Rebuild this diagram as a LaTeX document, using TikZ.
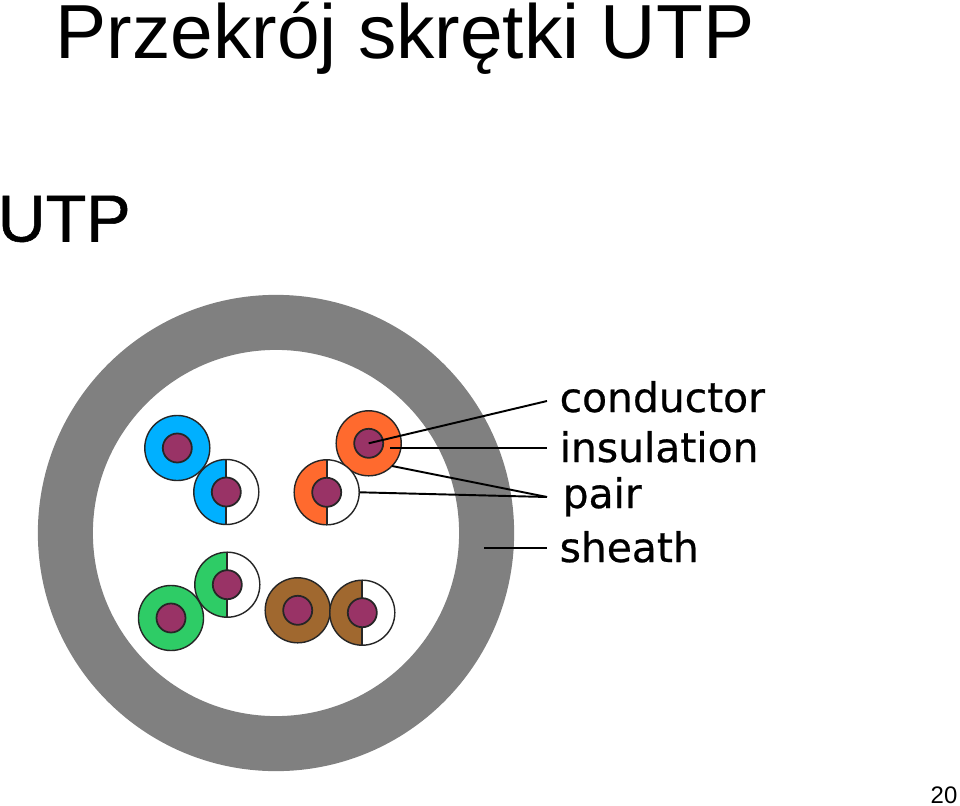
\documentclass[tikz,border=0pt]{standalone}
\usepackage{fontspec}
\setmainfont{Liberation Sans}
\newfontfamily\labelfont[FakeBold=0.6]{DejaVu Sans}
\newfontfamily\utpfont[FakeBold=0.8]{Liberation Sans}
\usepackage{xcolor}
\definecolor{sheathgray}{HTML}{808080}
\definecolor{corepurple}{HTML}{993366}
\definecolor{wireblue}{HTML}{00B0FF}
\definecolor{wireorange}{HTML}{FF6A2E}
\definecolor{wiregreen}{HTML}{2ECC66}
\definecolor{wirebrown}{HTML}{A0682F}
\tikzset{
    sheath/.style={circle, draw=sheathgray, line width=0.55cm, fill=white, inner sep=0pt, minimum size=4.21cm},
    solidwire/.style={circle, draw=black!85, line width=0.4pt, fill=#1, inner sep=0pt, minimum size=0.65cm},
    halfwire/.style={circle, draw=black!85, line width=0.4pt, fill=white, inner sep=0pt, minimum size=0.65cm,
        path picture={
            \fill[#1] (path picture bounding box.south west) rectangle (path picture bounding box.north);
            \draw[black!85, line width=0.5pt] (path picture bounding box.south) -- (path picture bounding box.north);
        }},
    core/.style={circle, draw=black!85, line width=0.5pt, fill=corepurple, inner sep=0pt, minimum size=0.29cm},
    wirelabel/.style={font=\labelfont\fontsize{11.6}{13}\selectfont, anchor=base west, inner sep=0pt},
    leader/.style={black, line width=0.55pt},
}
\begin{document}
\begin{tikzpicture}[x=0.01cm,y=-0.01cm]
    \useasboundingbox (0,0) rectangle (960,806);

    \node[anchor=base west, inner sep=0pt, font=\fontsize{21.8}{24}\selectfont] (title) at (55,58) {Przekrój skrętki UTP};
    \node[anchor=base west, inner sep=0pt, font=\utpfont\fontsize{18.9}{22}\selectfont] (utp) at (-3,241.5) {UTP};
    \node[anchor=base east, inner sep=0pt, font=\fontsize{6.8}{8}\selectfont] (page) at (958,803) {20};

    \node[sheath] (ring) at (276,533) {};

    % blue pair
    \node[solidwire=wireblue] (bluesolid) at (177.3,448) {};
    \node[core] at (bluesolid) {};
    \node[halfwire=wireblue] (bluehalf) at (226.3,492) {};
    \node[core] at (bluehalf) {};

    % orange pair
    \node[solidwire=wireorange] (orangesolid) at (368.7,443.3) {};
    \node[core] (orangecore) at (orangesolid) {};
    \node[halfwire=wireorange] (orangehalf) at (326.7,492.3) {};
    \node[core] at (orangehalf) {};

    % green pair
    \node[halfwire=wiregreen] (greenhalf) at (227.3,584.7) {};
    \node[core] at (greenhalf) {};
    \node[solidwire=wiregreen] (greensolid) at (171,618) {};
    \node[core] at (greensolid) {};

    % brown pair
    \node[solidwire=wirebrown] (brownsolid) at (297.7,610.3) {};
    \node[core] at (brownsolid) {};
    \node[halfwire=wirebrown] (brownhalf) at (362.3,612.7) {};
    \node[core] at (brownhalf) {};

    \node[wirelabel] (conductor) at (559,412) {conductor};
    \node[wirelabel] (insulation) at (559,462) {insulation};
    \node[wirelabel] (pair) at (562,508) {pair};
    \node[wirelabel] (sheathlabel) at (559,562) {sheath};

    \coordinate (conductorend) at (547,401);
    \coordinate (insulationend) at (547,448);
    \coordinate (pairend) at (547,497);
    \coordinate (sheathend) at (547,548);
    \coordinate (insulationstart) at (390,448);
    \coordinate (pairstart) at (392,466);
    \coordinate (sheathstart) at (484,548);

    \draw[leader] (orangecore.center) -- (conductorend);
    \draw[leader] (insulationstart) -- (insulationend);
    \draw[leader] (pairstart) -- (pairend);
    \draw[leader] (orangehalf.east) -- (pairend);
    \draw[leader] (sheathstart) -- (sheathend);
\end{tikzpicture}
\end{document}
